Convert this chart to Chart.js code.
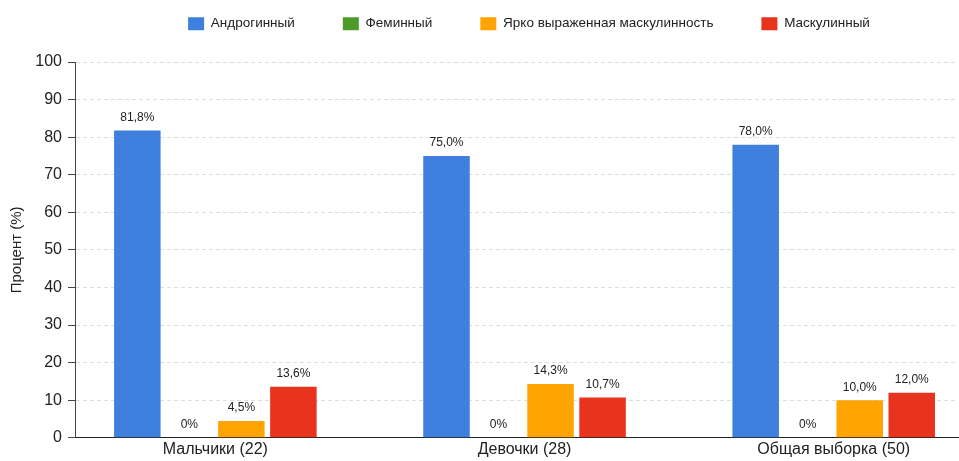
<!DOCTYPE html>
<html lang="ru">
<head>
<meta charset="utf-8">
<title>Гендерные типы</title>
<script src="https://cdn.jsdelivr.net/npm/chart.js@4.4.1/dist/chart.umd.min.js"></script>
<style>
    html, body { margin: 0; padding: 0; background: #fff; overflow: hidden; }
    #wrap { width: 959px; height: 461px; }
</style>
</head>
<body>
<div id="wrap"><canvas id="genderChart" width="959" height="461"></canvas></div>
<script>
// ── данные ──
const categories  = ['Мальчики (22)', 'Девочки (28)', 'Общая выборка (50)'];
const seriesNames = ['Андрогинный', 'Феминный', 'Ярко выраженная маскулинность', 'Маскулинный'];
const androgynous = [81.8, 75.0, 78.0];
const feminine    = [0, 0, 0];
const brightMasc  = [4.5, 14.3, 10.0];
const masculine   = [13.6, 10.7, 12.0];
const yMax = 100, yStep = 10;

const COLORS = ['#3f7fdd', '#4c9a2a', '#ffa400', '#e8341c'];
const FONT = "'Liberation Sans', Arial, Helvetica, sans-serif";

// ── helpers ──
function pct(v) {
    return v === 0 ? '0%' : v.toFixed(1).replace('.', ',') + '%';
}

// подписи над столбиками
const barLabels = {
    id: 'barLabels',
    afterDatasetsDraw(chart) {
        const ctx = chart.ctx;
        ctx.save();
        ctx.font = '12px ' + FONT;
        ctx.fillStyle = '#222';
        ctx.textAlign = 'center';
        ctx.textBaseline = 'middle';
        chart.data.datasets.forEach((ds, di) => {
            chart.getDatasetMeta(di).data.forEach((el, i) => {
                ctx.fillText(pct(ds.data[i].y), el.x, el.y - 13);
            });
        });
        ctx.restore();
    }
};

// легенда: фиксированная высота и сдвиг
const LEG_PAD = 48;
const legendNudge = {
    id: 'legendNudge',
    beforeInit(chart) {
        const fit = chart.legend.fit;
        chart.legend.fit = function () { fit.call(this); this.height = 62; };
    },
    afterLayout(chart) {
        const lg = chart.legend;
        lg.top -= LEG_PAD - 17;
        lg.left += 50;
        lg.right += 50;
    }
};

const series = [androgynous, feminine, brightMasc, masculine];

new Chart(document.getElementById('genderChart'), {
    type: 'bar',
    data: {
        datasets: series.map((vals, k) => ({
            label: seriesNames[k],
            data: vals.map((v, i) => ({ x: i, y: v })),
            backgroundColor: COLORS[k],
            borderWidth: 0,
            categoryPercentage: 0.673,
            barPercentage: 0.894
        }))
    },
    options: {
        responsive: false,
        animation: false,
        layout: { padding: { top: 0, right: 1, bottom: 0, left: 0 } },
        plugins: {
            tooltip: { enabled: false },
            legend: {
                position: 'top',
                labels: {
                    boxWidth: 16,
                    boxHeight: 13,
                    padding: LEG_PAD,
                    color: '#222',
                    font: { family: FONT, size: 13.5 }
                }
            }
        },
        scales: {
            x: {
                type: 'linear',
                offset: false,
                min: -0.454,
                max: 2.402,
                grid: { display: false, drawTicks: false },
                border: { display: true, color: '#222', width: 1 },
                ticks: {
                    stepSize: 1,
                    includeBounds: false,
                    autoSkip: false,
                    maxRotation: 0,
                    padding: 2,
                    color: '#222',
                    font: { family: FONT, size: 16 },
                    callback: v => (Number.isInteger(v) && categories[v]) ? categories[v] : ''
                }
            },
            y: {
                min: 0,
                max: yMax,
                afterFit: s => { s.width = 75; },
                ticks: {
                    stepSize: yStep,
                    padding: 6,
                    color: '#222',
                    font: { family: FONT, size: 16 }
                },
                grid: { color: '#dedede', tickColor: '#444', tickLength: 7 },
                border: { display: true, color: '#444', width: 1, dash: [4, 3] },
                title: {
                    display: true,
                    text: 'Процент (%)',
                    color: '#222',
                    padding: { top: 8, bottom: 0 },
                    font: { family: FONT, size: 15 }
                }
            }
        }
    },
    plugins: [barLabels, legendNudge]
});
</script>
</body>
</html>
